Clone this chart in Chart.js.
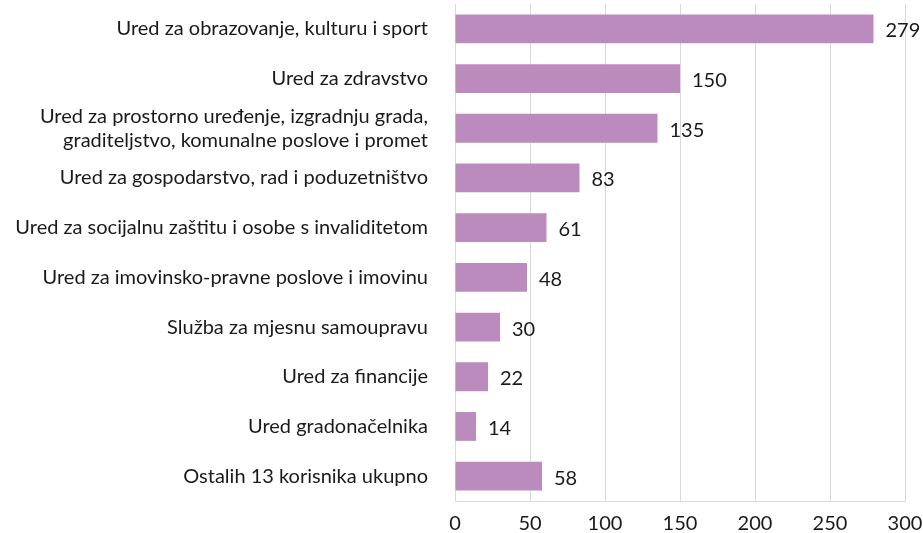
<!DOCTYPE html>
<html>
<head>
<meta charset="utf-8">
<script src="https://cdn.jsdelivr.net/npm/chart.js@4"></script>
<style>
  html, body { margin: 0; padding: 0; background: #fff; }
  #wrap { width: 923px; height: 533px; }
</style>
</head>
<body>
<div id="wrap"><canvas id="chart"></canvas></div>
<script>
// Data
const categories = [
  "Ured za obrazovanje, kulturu i sport",
  "Ured za zdravstvo",
  ["Ured za prostorno uređenje, izgradnju grada,", "graditeljstvo, komunalne poslove i promet"],
  "Ured za gospodarstvo, rad i poduzetništvo",
  "Ured za socijalnu zaštitu i osobe s invaliditetom",
  "Ured za imovinsko-pravne poslove i imovinu",
  "Služba za mjesnu samoupravu",
  "Ured za financije",
  "Ured gradonačelnika",
  "Ostalih 13 korisnika ukupno"
];
const values = [279, 150, 135, 83, 61, 48, 30, 22, 14, 58];
const xTicks = [0, 50, 100, 150, 200, 250, 300];

const barColor = "#bb8bbe";
const textColor = "#1a1a1a";
const fontFamily = "Lato, 'Open Sans', sans-serif";

// Value labels at the end of each bar
const valueLabels = {
  id: "valueLabels",
  afterDatasetsDraw(chart) {
    const ctx = chart.ctx;
    const meta = chart.getDatasetMeta(0);
    ctx.save();
    ctx.font = "20px " + fontFamily;
    ctx.fillStyle = textColor;
    ctx.textAlign = "left";
    ctx.textBaseline = "middle";
    meta.data.forEach((bar, i) => {
      ctx.fillText(String(values[i]), bar.x + 12, bar.y + 2);
    });
    ctx.restore();
  }
};

// drop the extra padding Chart.js adds for the outer tick labels
function noPad(scale) {
  scale.paddingTop = 0;
  scale.paddingBottom = 0;
  scale.paddingLeft = 0;
  scale.paddingRight = 0;
}

new Chart(document.getElementById("chart"), {
  type: "bar",
  data: {
    labels: categories,
    datasets: [{
      data: values,
      backgroundColor: barColor,
      borderWidth: 0,
      categoryPercentage: 1,
      barPercentage: 0.58
    }]
  },
  options: {
    indexAxis: "y",
    responsive: true,
    maintainAspectRatio: false,
    animation: false,
    layout: { padding: { top: 4, right: 18, left: 0, bottom: 0 } },
    plugins: {
      legend: { display: false },
      tooltip: { enabled: false }
    },
    scales: {
      x: {
        min: 0,
        max: 300,
        afterBuildTicks: (scale) => { scale.ticks = xTicks.map(v => ({ value: v })); },
        afterFit: (scale) => { scale.height = 32; noPad(scale); },
        grid: { color: "#d9d9d9", drawTicks: false },
        border: { color: "#d9d9d9" },
        ticks: {
          padding: 11,
          color: textColor,
          font: { family: fontFamily, size: 20 },
          maxRotation: 0
        }
      },
      y: {
        afterFit: (scale) => { scale.width = 455; noPad(scale); },
        grid: { display: false, drawTicks: false },
        border: { display: false },
        ticks: {
          autoSkip: false,
          padding: 27,
          color: textColor,
          font: { family: fontFamily, size: 20, lineHeight: 1.2 }
        }
      }
    }
  },
  plugins: [valueLabels]
});
</script>
</body>
</html>
